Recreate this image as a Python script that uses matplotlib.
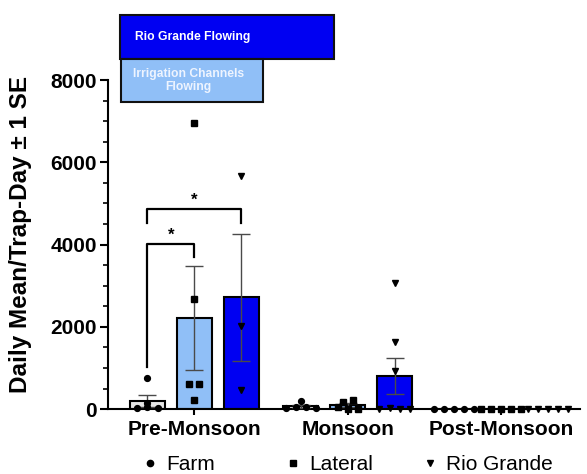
import matplotlib
matplotlib.use("Agg")
import matplotlib.pyplot as plt
import numpy as np
from matplotlib.patches import Rectangle
from matplotlib.lines import Line2D

plt.rcParams['font.family'] = ['Liberation Sans', 'DejaVu Sans']

seasons = ['Pre-Monsoon', 'Monsoon', 'Post-Monsoon']
sites = ['Farm', 'Lateral', 'Rio Grande']

# daily mean per trap-day, one list per site for each season
pre_farm = [750, 30, 140, 40, 20]
pre_lateral = [6960, 2680, 600, 600, 220]
pre_rio = [5670, 2020, 460]
mon_farm = [190, 20, 60, 40, 30]
mon_lateral = [170, 230, 40, 10, 0]
mon_rio = [3070, 1620, 920, 10, 20, 0, 10]
post_farm = [0, 0, 0, 0, 0]
post_lateral = [0, 0, 0, 0, 0]
post_rio = [0, 0, 0, 0, 0]

data = [[pre_farm, pre_lateral, pre_rio],
        [mon_farm, mon_lateral, mon_rio],
        [post_farm, post_lateral, post_rio]]

bar_colors = ['#e6e6e6', '#90bff7', '#0000f2']
markers = ['o', 's', 'v']
offsets = [-0.306, 0.0, 0.306]
width = 0.228


def spread(vals, thresh=100, step=0.066):
    # points with close values are laid side by side
    vals = np.asarray(vals, dtype=float)
    order = np.argsort(vals, kind='stable')
    xs = np.zeros(len(vals))
    groups = [[order[0]]]
    for i in order[1:]:
        if vals[i] - vals[groups[-1][-1]] < thresh:
            groups[-1].append(i)
        else:
            groups.append([i])
    for g in groups:
        g = sorted(g)
        n = len(g)
        for k, idx in enumerate(g):
            xs[idx] = (k - (n - 1) / 2) * step
    return xs


fig = plt.figure(figsize=(5.87, 4.74), dpi=100)
ax = fig.add_axes([0.184, 0.137, 0.804, 0.694])

for gi, group in enumerate(data):
    for si, vals in enumerate(group):
        v = np.array(vals, dtype=float)
        mean = v.mean()
        se = v.std(ddof=1) / np.sqrt(len(v))
        x = gi + offsets[si]
        ax.bar(x, mean, width, color=bar_colors[si], edgecolor='black',
               linewidth=1.5, zorder=2)
        if se > 0:
            ax.errorbar(x, mean, yerr=se, color='#4a4a4a', elinewidth=1,
                        capsize=6.5, capthick=1, zorder=3)
        ax.plot(x + spread(v), v, linestyle='none', marker=markers[si],
                color='black', markersize=4.2 if si < 2 else 4.6,
                zorder=4, clip_on=False)

# significance brackets
fx, lx, rx = offsets[0], offsets[1], offsets[2]
ax.plot([fx, fx, lx, lx], [1020, 4015, 4015, 3700], color='black', lw=1.6, zorder=3)
ax.text((fx + lx) / 2, 4050, '*', ha='center', va='bottom', fontsize=12, fontweight='bold')
ax.plot([fx, fx, rx, rx], [4525, 4870, 4870, 4525], color='black', lw=1.6, zorder=3)
ax.text((fx + rx) / 2, 4900, '*', ha='center', va='bottom', fontsize=12, fontweight='bold')

# flow period boxes above the plot
rio_box = Rectangle((-0.485, 8516), 1.394, 1070, facecolor='#0000f2',
                    edgecolor='#111111', lw=1.5, clip_on=False, zorder=5)
irr_box = Rectangle((-0.478, 7470), 0.924, 1046, facecolor='#90bff7',
                    edgecolor='#111111', lw=1.5, clip_on=False, zorder=6)
ax.add_patch(rio_box)
ax.add_patch(irr_box)
ax.text(-0.39, 9050, 'Rio Grande Flowing', color='white', fontsize=8.7,
        fontweight='bold', ha='left', va='center', zorder=7)
ax.text(-0.04, 7990, 'Irrigation Channels\nFlowing', color='#eef4ff',
        fontsize=8.7, fontweight='bold', ha='center', va='center',
        linespacing=1.15, zorder=7)

ax.set_xlim(-0.563, 2.515)
ax.set_ylim(0, 8000)
ax.set_yticks([0, 2000, 4000, 6000, 8000])
ax.set_yticks(np.arange(0, 8001, 500), minor=True)
ax.set_xticks([0, 1, 2])
ax.set_xticklabels(seasons, fontsize=15, fontweight='bold')
for lab in ax.get_yticklabels():
    lab.set_fontweight('bold')
ax.tick_params(axis='y', labelsize=15, width=1.5, length=6, pad=2)
ax.tick_params(axis='y', which='minor', width=1.2, length=3.5)
ax.tick_params(axis='x', width=1.5, length=4, pad=4)
ax.spines['top'].set_visible(False)
ax.spines['right'].set_visible(False)
ax.spines['left'].set_linewidth(1.5)
ax.spines['bottom'].set_linewidth(1.5)
ax.set_ylabel('Daily Mean/Trap-Day \u00b1 1 SE', fontsize=17.5, fontweight='bold')
ax.yaxis.set_label_coords(-0.162, 0.532)

# legend row under the group labels
legend_x = [150, 293, 430]
for lx_px, m, name in zip(legend_x, markers, sites):
    fx0 = lx_px / 587
    fig.add_artist(Line2D([fx0], [0.024], linestyle='none', marker=m,
                          color='black', markersize=4.5,
                          transform=fig.transFigure))
    fig.text(fx0 + 16 / 587, 0.024, name, fontsize=15, ha='left',
             va='center_baseline')

fig.savefig('out.png', dpi=100)
